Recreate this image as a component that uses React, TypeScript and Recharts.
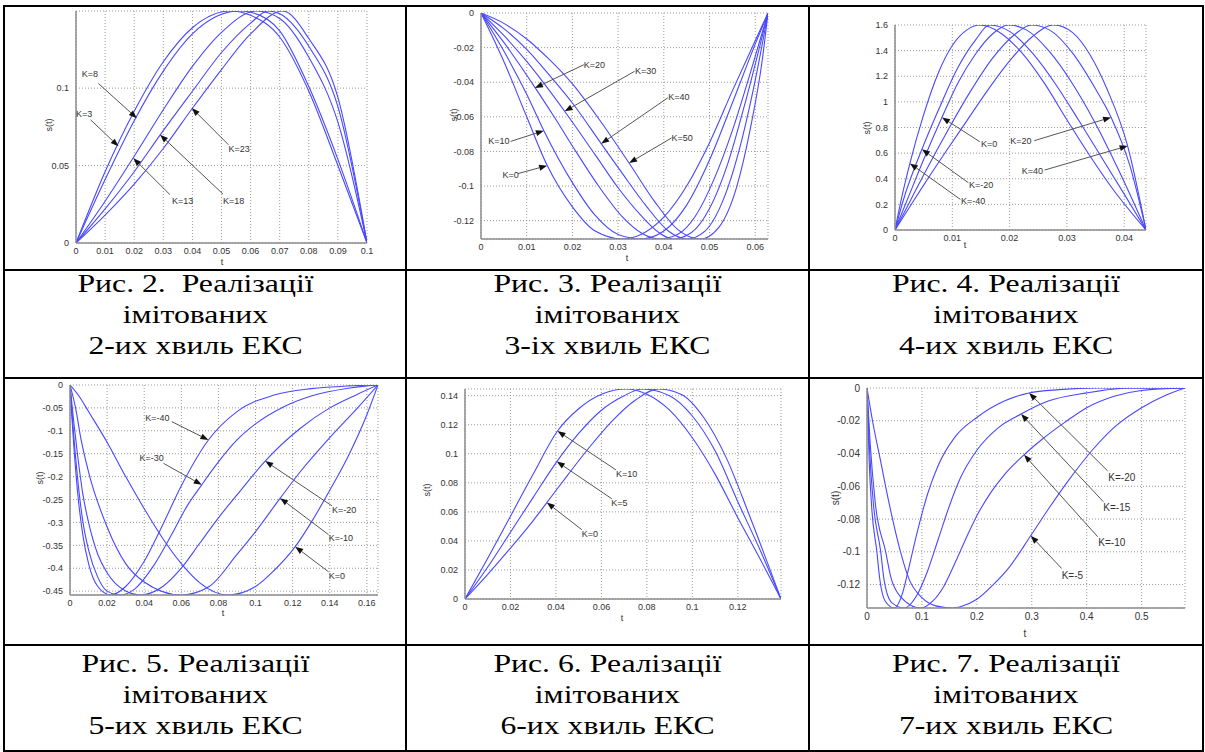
import React from "react";
import {
  LineChart,
  Line,
  XAxis,
  YAxis,
  CartesianGrid,
  ReferenceLine,
  ReferenceDot,
} from "recharts";

type Pt = [number, number];
type Note = { text: string; tx: number; ty: number; x1: number; y1: number; x2: number; y2: number };

// ---- Рис. 2 (K = 3, 8, 13, 18, 23) ----
const fig2K3: Pt[] = [[0, 0], [0.01, 0.046], [0.02, 0.085], [0.03, 0.117], [0.04, 0.139], [0.053, 0.1498], [0.06, 0.147], [0.07, 0.133], [0.08, 0.098], [0.09, 0.05], [0.1, 0]];
const fig2K8: Pt[] = [[0, 0], [0.01, 0.041], [0.02, 0.079], [0.03, 0.111], [0.04, 0.135], [0.056, 0.1498], [0.06, 0.149], [0.07, 0.137], [0.08, 0.101], [0.09, 0.054], [0.1, 0]];
const fig2K13: Pt[] = [[0, 0], [0.01, 0.027], [0.02, 0.056], [0.03, 0.086], [0.04, 0.114], [0.05, 0.136], [0.062, 0.1498], [0.07, 0.145], [0.08, 0.12], [0.09, 0.078], [0.1, 0]];
const fig2K18: Pt[] = [[0, 0], [0.01, 0.022], [0.02, 0.046], [0.029, 0.07], [0.04, 0.098], [0.05, 0.123], [0.06, 0.142], [0.066, 0.1498], [0.07, 0.148], [0.08, 0.127], [0.09, 0.088], [0.1, 0]];
const fig2K23: Pt[] = [[0, 0], [0.01, 0.018], [0.02, 0.038], [0.03, 0.061], [0.04, 0.087], [0.05, 0.112], [0.06, 0.135], [0.071, 0.1498], [0.08, 0.132], [0.09, 0.094], [0.1, 0]];
const fig2XTicks = [0, 0.01, 0.02, 0.03, 0.04, 0.05, 0.06, 0.07, 0.08, 0.09, 0.1];
const fig2YTicks = [0, 0.05, 0.1];
const fig2Notes: Note[] = [
  { text: "K=8", tx: 0.002, ty: 0.109, x1: 0.0077, y1: 0.103, x2: 0.0209, y2: 0.0806 },
  { text: "K=3", tx: 0.0, ty: 0.083, x1: 0.005, y1: 0.0796, x2: 0.0146, y2: 0.0624 },
  { text: "K=13", tx: 0.033, ty: 0.0273, x1: 0.0323, y1: 0.0312, x2: 0.0197, y2: 0.0548 },
  { text: "K=18", tx: 0.0505, ty: 0.0269, x1: 0.0505, y1: 0.0316, x2: 0.0289, y2: 0.0699 },
  { text: "K=23", tx: 0.0524, ty: 0.0609, x1: 0.0524, y1: 0.0634, x2: 0.0398, y2: 0.0871 },
];

// ---- Рис. 3 (K = 0 ... 50) ----
const fig3K0: Pt[] = [[0, 0], [0.005, -0.028], [0.01, -0.06], [0.01447, -0.088], [0.02, -0.112], [0.025, -0.126], [0.031, -0.1306], [0.035, -0.128], [0.04, -0.118], [0.045, -0.1], [0.05, -0.075], [0.055, -0.045], [0.06, -0.016], [0.0628, 0]];
const fig3K10: Pt[] = [[0, 0], [0.005, -0.022], [0.01, -0.047], [0.01375, -0.068], [0.02, -0.098], [0.025, -0.117], [0.03, -0.128], [0.035, -0.1306], [0.04, -0.126], [0.045, -0.111], [0.05, -0.085], [0.055, -0.052], [0.06, -0.018], [0.0628, 0]];
const fig3K20: Pt[] = [[0, 0], [0.005, -0.017], [0.0118, -0.043], [0.016, -0.06], [0.021, -0.081], [0.026, -0.101], [0.031, -0.118], [0.035, -0.127], [0.039, -0.1306], [0.043, -0.128], [0.047, -0.117], [0.051, -0.096], [0.055, -0.068], [0.059, -0.034], [0.0628, 0]];
const fig3K30: Pt[] = [[0, 0], [0.005, -0.013], [0.01, -0.028], [0.0183, -0.0568], [0.025, -0.082], [0.03, -0.101], [0.035, -0.117], [0.039, -0.127], [0.042, -0.1306], [0.046, -0.127], [0.05, -0.113], [0.054, -0.087], [0.058, -0.05], [0.0628, 0]];
const fig3K40: Pt[] = [[0, 0], [0.005, -0.009], [0.01, -0.021], [0.015, -0.036], [0.02, -0.052], [0.0263, -0.0755], [0.031, -0.093], [0.036, -0.111], [0.041, -0.126], [0.045, -0.1306], [0.049, -0.126], [0.053, -0.108], [0.057, -0.074], [0.0603, -0.035], [0.0628, 0]];
const fig3K50: Pt[] = [[0, 0], [0.005, -0.006], [0.01, -0.015], [0.015, -0.027], [0.02, -0.041], [0.026, -0.062], [0.0324, -0.0867], [0.038, -0.109], [0.043, -0.125], [0.048, -0.1306], [0.052, -0.124], [0.056, -0.1], [0.059, -0.066], [0.0615, -0.028], [0.0628, 0]];
const fig3XTicks = [0, 0.01, 0.02, 0.03, 0.04, 0.05, 0.06];
const fig3YTicks = [0, -0.02, -0.04, -0.06, -0.08, -0.1, -0.12];
const fig3Notes: Note[] = [
  { text: "K=20", tx: 0.0225, ty: -0.0299, x1: 0.0225, y1: -0.0299, x2: 0.0118, y2: -0.0433 },
  { text: "K=30", tx: 0.0337, ty: -0.0337, x1: 0.0336, y1: -0.0337, x2: 0.0183, y2: -0.0568 },
  { text: "K=40", tx: 0.041, ty: -0.0485, x1: 0.0409, y1: -0.049, x2: 0.0263, y2: -0.0755 },
  { text: "K=50", tx: 0.0417, ty: -0.0722, x1: 0.0417, y1: -0.0722, x2: 0.0324, y2: -0.0867 },
  { text: "K=10", tx: 0.0016, ty: -0.0742, x1: 0.0065, y1: -0.0742, x2: 0.01375, y2: -0.068 },
  { text: "K=0", tx: 0.0047, ty: -0.0934, x1: 0.0081, y1: -0.0928, x2: 0.01447, y2: -0.0882 },
];

// ---- Рис. 4 (K = -40 ... 40) ----
const fig4Km40: Pt[] = [[0, 0], [0.001, 0.22], [0.0026, 0.52], [0.005, 0.9], [0.0075, 1.22], [0.01, 1.44], [0.0125, 1.56], [0.0148, 1.6], [0.018, 1.55], [0.022, 1.39], [0.026, 1.15], [0.03, 0.86], [0.034, 0.58], [0.038, 0.32], [0.0438, 0]];
const fig4Km20: Pt[] = [[0, 0], [0.0015, 0.24], [0.0047, 0.63], [0.008, 0.98], [0.011, 1.27], [0.014, 1.48], [0.0165, 1.6], [0.02, 1.55], [0.024, 1.38], [0.028, 1.14], [0.032, 0.86], [0.036, 0.57], [0.04, 0.28], [0.0438, 0]];
const fig4K0: Pt[] = [[0, 0], [0.002, 0.22], [0.005, 0.55], [0.0082, 0.88], [0.011, 1.15], [0.014, 1.37], [0.017, 1.53], [0.0198, 1.6], [0.023, 1.56], [0.027, 1.39], [0.031, 1.14], [0.035, 0.83], [0.039, 0.47], [0.0438, 0]];
const fig4K20: Pt[] = [[0, 0], [0.002, 0.17], [0.005, 0.43], [0.0095, 0.8], [0.013, 1.07], [0.017, 1.34], [0.021, 1.53], [0.0238, 1.6], [0.027, 1.56], [0.031, 1.38], [0.035, 1.1], [0.0377, 0.88], [0.041, 0.5], [0.0438, 0]];
const fig4K40: Pt[] = [[0, 0], [0.002, 0.14], [0.005, 0.35], [0.009, 0.62], [0.0125, 0.85], [0.016, 1.08], [0.02, 1.32], [0.024, 1.51], [0.0277, 1.6], [0.031, 1.54], [0.034, 1.37], [0.037, 1.1], [0.0406, 0.655], [0.0438, 0]];
const fig4XTicks = [0, 0.01, 0.02, 0.03, 0.04];
const fig4YTicks = [0, 0.2, 0.4, 0.6, 0.8, 1, 1.2, 1.4, 1.6];
const fig4Notes: Note[] = [
  { text: "K=0", tx: 0.015, ty: 0.671, x1: 0.0148, y1: 0.689, x2: 0.0082, y2: 0.879 },
  { text: "K=-20", tx: 0.0129, ty: 0.351, x1: 0.0128, y1: 0.369, x2: 0.0047, y2: 0.63 },
  { text: "K=-40", tx: 0.0115, ty: 0.229, x1: 0.0114, y1: 0.239, x2: 0.0026, y2: 0.52 },
  { text: "K=20", tx: 0.0201, ty: 0.695, x1: 0.0243, y1: 0.697, x2: 0.0377, y2: 0.879 },
  { text: "K=40", tx: 0.0221, ty: 0.463, x1: 0.0261, y1: 0.468, x2: 0.0406, y2: 0.656 },
];

// ---- Рис. 5 (K = -40 ... 0) ----
const fig5Km40: Pt[] = [[0, 0], [0.001, -0.07], [0.002, -0.13], [0.004, -0.23], [0.007, -0.33], [0.01, -0.39], [0.015, -0.44], [0.022, -0.4585], [0.03, -0.44], [0.04, -0.385], [0.05, -0.305], [0.06, -0.22], [0.0746, -0.12], [0.09, -0.058], [0.11, -0.022], [0.13, -0.008], [0.15, -0.002], [0.166, 0]];
const fig5Km30: Pt[] = [[0, 0], [0.001, -0.055], [0.002, -0.11], [0.004, -0.2], [0.007, -0.3], [0.01, -0.36], [0.015, -0.42], [0.02, -0.45], [0.027, -0.4585], [0.035, -0.445], [0.045, -0.395], [0.055, -0.325], [0.063, -0.265], [0.071, -0.218], [0.08, -0.168], [0.09, -0.12], [0.1, -0.085], [0.115, -0.048], [0.13, -0.024], [0.15, -0.007], [0.166, 0]];
const fig5Km20: Pt[] = [[0, 0], [0.002, -0.08], [0.004, -0.15], [0.007, -0.24], [0.01, -0.3], [0.015, -0.37], [0.02, -0.41], [0.03, -0.45], [0.038, -0.4585], [0.05, -0.44], [0.06, -0.4], [0.07, -0.345], [0.08, -0.29], [0.09, -0.24], [0.1052, -0.166], [0.124, -0.095], [0.14, -0.05], [0.155, -0.02], [0.166, 0]];
const fig5Km10: Pt[] = [[0, 0], [0.003, -0.05], [0.006, -0.12], [0.01, -0.19], [0.02, -0.31], [0.03, -0.39], [0.04, -0.43], [0.06, -0.4585], [0.075, -0.44], [0.09, -0.37], [0.1, -0.32], [0.1133, -0.247], [0.124, -0.19], [0.14, -0.115], [0.155, -0.05], [0.166, 0]];
const fig5K0: Pt[] = [[0, 0], [0.005, -0.025], [0.01, -0.058], [0.02, -0.125], [0.03, -0.2], [0.04, -0.27], [0.05, -0.335], [0.06, -0.39], [0.07, -0.432], [0.085, -0.4585], [0.1, -0.44], [0.11, -0.405], [0.1214, -0.353], [0.13, -0.3], [0.14, -0.23], [0.15, -0.155], [0.16, -0.065], [0.166, 0]];
const fig5XTicks = [0, 0.02, 0.04, 0.06, 0.08, 0.1, 0.12, 0.14, 0.16];
const fig5YTicks = [0, -0.05, -0.1, -0.15, -0.2, -0.25, -0.3, -0.35, -0.4, -0.45];
const fig5Notes: Note[] = [
  { text: "K=-40", tx: 0.0405, ty: -0.0728, x1: 0.0549, y1: -0.08, x2: 0.0746, y2: -0.12 },
  { text: "K=-30", tx: 0.0374, ty: -0.16, x1: 0.0504, y1: -0.171, x2: 0.071, y2: -0.218 },
  { text: "K=-20", tx: 0.1412, ty: -0.273, x1: 0.1412, y1: -0.264, x2: 0.1052, y2: -0.166 },
  { text: "K=-10", tx: 0.1394, ty: -0.335, x1: 0.1394, y1: -0.327, x2: 0.1133, y2: -0.247 },
  { text: "K=0", tx: 0.1394, ty: -0.418, x1: 0.1394, y1: -0.408, x2: 0.1214, y2: -0.353 },
];

// ---- Рис. 6 (K = 0, 5, 10) ----
const fig6K10: Pt[] = [[0, 0], [0.01, 0.028], [0.02, 0.057], [0.03, 0.086], [0.0407, 0.1157], [0.05, 0.131], [0.06, 0.141], [0.071, 0.1446], [0.08, 0.141], [0.09, 0.13], [0.1, 0.111], [0.11, 0.086], [0.12, 0.056], [0.13, 0.027], [0.139, 0]];
const fig6K5: Pt[] = [[0, 0], [0.01, 0.022], [0.02, 0.046], [0.03, 0.07], [0.0404, 0.0946], [0.05, 0.114], [0.06, 0.13], [0.07, 0.14], [0.078, 0.1446], [0.09, 0.14], [0.1, 0.126], [0.11, 0.102], [0.12, 0.067], [0.13, 0.033], [0.139, 0]];
const fig6K0: Pt[] = [[0, 0], [0.01, 0.017], [0.02, 0.035], [0.03, 0.054], [0.036, 0.0664], [0.045, 0.085], [0.055, 0.105], [0.065, 0.123], [0.075, 0.137], [0.085, 0.1446], [0.095, 0.141], [0.105, 0.125], [0.115, 0.097], [0.125, 0.058], [0.139, 0]];
const fig6XTicks = [0, 0.02, 0.04, 0.06, 0.08, 0.1, 0.12];
const fig6YTicks = [0, 0.02, 0.04, 0.06, 0.08, 0.1, 0.12, 0.14];
const fig6Notes: Note[] = [
  { text: "K=10", tx: 0.0664, ty: 0.0859, x1: 0.0664, y1: 0.0889, x2: 0.0407, y2: 0.1157 },
  { text: "K=5", tx: 0.0643, ty: 0.066, x1: 0.0646, y1: 0.069, x2: 0.0404, y2: 0.0946 },
  { text: "K=0", tx: 0.0514, ty: 0.0447, x1: 0.0514, y1: 0.0477, x2: 0.036, y2: 0.0664 },
];

// ---- Рис. 7 (K = -20 ... -5) ----
const fig7Km20: Pt[] = [[0, 0], [0.004, -0.045], [0.009, -0.075], [0.018, -0.1], [0.023, -0.116], [0.033, -0.13], [0.05, -0.1343], [0.064, -0.126], [0.076, -0.11], [0.09, -0.09], [0.11, -0.065], [0.13, -0.047], [0.16, -0.03], [0.2, -0.018], [0.25, -0.008], [0.295, -0.003], [0.35, -0.001], [0.42, 0], [0.579, 0]];
const fig7Km15: Pt[] = [[0, 0], [0.005, -0.04], [0.012, -0.072], [0.025, -0.1], [0.031, -0.117], [0.045, -0.131], [0.068, -0.1343], [0.09, -0.127], [0.11, -0.112], [0.13, -0.092], [0.15, -0.072], [0.17, -0.055], [0.2, -0.038], [0.24, -0.024], [0.2806, -0.0159], [0.33, -0.008], [0.4, -0.003], [0.48, 0], [0.579, 0]];
const fig7Km10: Pt[] = [[0, 0], [0.006, -0.035], [0.015, -0.07], [0.034, -0.1], [0.043, -0.115], [0.06, -0.127], [0.098, -0.1343], [0.12, -0.13], [0.14, -0.121], [0.16, -0.107], [0.18, -0.092], [0.2, -0.078], [0.225, -0.064], [0.25, -0.053], [0.286, -0.0408], [0.32, -0.031], [0.36, -0.021], [0.4, -0.012], [0.45, -0.005], [0.5, -0.0015], [0.579, 0]];
const fig7Km5: Pt[] = [[0, 0], [0.01, -0.02], [0.025, -0.045], [0.04, -0.07], [0.061, -0.1], [0.077, -0.117], [0.1, -0.128], [0.125, -0.133], [0.155, -0.1343], [0.17, -0.1335], [0.2, -0.129], [0.23, -0.12], [0.26, -0.109], [0.298, -0.0902], [0.33, -0.074], [0.37, -0.055], [0.41, -0.038], [0.45, -0.024], [0.5, -0.012], [0.54, -0.005], [0.579, 0]];
const fig7XTicks = [0, 0.1, 0.2, 0.3, 0.4, 0.5];
const fig7YTicks = [0, -0.02, -0.04, -0.06, -0.08, -0.1, -0.12];
const fig7Notes: Note[] = [
  { text: "K=-20", tx: 0.4394, ty: -0.0547, x1: 0.4382, y1: -0.0506, x2: 0.2952, y2: -0.0031 },
  { text: "K=-15", tx: 0.4303, ty: -0.0731, x1: 0.4303, y1: -0.0694, x2: 0.2806, y2: -0.0159 },
  { text: "K=-10", tx: 0.4212, ty: -0.0943, x1: 0.42, y1: -0.0908, x2: 0.286, y2: -0.0408 },
  { text: "K=-5", tx: 0.3545, ty: -0.1147, x1: 0.3545, y1: -0.1102, x2: 0.2982, y2: -0.0902 },
];

const captions = [
  ["Рис. 2.  Реалізації", "імітованих", "2-их хвиль ЕКС"],
  ["Рис. 3. Реалізації", "імітованих", "3-іх хвиль ЕКС"],
  ["Рис. 4. Реалізації", "імітованих", "4-их хвиль ЕКС"],
  ["Рис. 5. Реалізації", "імітованих", "5-их хвиль ЕКС"],
  ["Рис. 6. Реалізації", "імітованих", "6-их хвиль ЕКС"],
  ["Рис. 7. Реалізації", "імітованих", "7-их хвиль ЕКС"],
];

const BLUE = "#4848ff";
const SANS = "Liberation Sans, Arial, sans-serif";
const SERIF = "Liberation Serif, DejaVu Serif, serif";

type Panel = {
  box: [number, number, number, number]; // left, top, right, bottom of plot area
  xMax: number;
  yDomain: [number, number];
  xTicks: number[];
  yTicks: number[];
  curves: Pt[][];
  notes: Note[];
  font: number;
  yLab: [number, number];
  xLab: [number, number];
};

const panels: Panel[] = [
  { box: [76, 11, 367, 243], xMax: 0.1, yDomain: [0, 0.1498], xTicks: fig2XTicks, yTicks: fig2YTicks, curves: [fig2K3, fig2K8, fig2K13, fig2K18, fig2K23], notes: fig2Notes, font: 9, yLab: [49, 125], xLab: [222, 262] },
  { box: [481, 13, 768, 239], xMax: 0.0628, yDomain: [-0.1306, 0], xTicks: fig3XTicks, yTicks: fig3YTicks, curves: [fig3K0, fig3K10, fig3K20, fig3K30, fig3K40, fig3K50], notes: fig3Notes, font: 9, yLab: [454, 115], xLab: [627, 258] },
  { box: [895, 25, 1146, 230], xMax: 0.0438, yDomain: [0, 1.6], xTicks: fig4XTicks, yTicks: fig4YTicks, curves: [fig4Km40, fig4Km20, fig4K0, fig4K20, fig4K40], notes: fig4Notes, font: 9, yLab: [867, 128], xLab: [965, 245] },
  { box: [70, 385, 378, 595], xMax: 0.166, yDomain: [-0.4585, 0], xTicks: fig5XTicks, yTicks: fig5YTicks, curves: [fig5Km40, fig5Km30, fig5Km20, fig5Km10, fig5K0], notes: fig5Notes, font: 9, yLab: [40, 478], xLab: [223, 613] },
  { box: [465, 389, 781, 599], xMax: 0.139, yDomain: [0, 0.1446], xTicks: fig6XTicks, yTicks: fig6YTicks, curves: [fig6K10, fig6K5, fig6K0], notes: fig6Notes, font: 9, yLab: [427, 490], xLab: [622, 618] },
  { box: [867, 388, 1185, 608], xMax: 0.579, yDomain: [-0.1343, 0], xTicks: fig7XTicks, yTicks: fig7YTicks, curves: [fig7Km20, fig7Km15, fig7Km10, fig7Km5], notes: fig7Notes, font: 10, yLab: [835, 498], xLab: [1025, 633] },
];

function arrowShape(props: any) {
  const { x1, y1, x2, y2 } = props;
  if ([x1, y1, x2, y2].some((v) => typeof v !== "number" || isNaN(v))) return <g />;
  const dx = x2 - x1;
  const dy = y2 - y1;
  const len = Math.hypot(dx, dy) || 1;
  const ux = dx / len;
  const uy = dy / len;
  const L = 8;
  const W = 3;
  const bx = x2 - ux * L;
  const by = y2 - uy * L;
  const pts = `${x2},${y2} ${bx - uy * W},${by + ux * W} ${bx + uy * W},${by - ux * W}`;
  return (
    <g>
      <line x1={x1} y1={y1} x2={bx} y2={by} stroke="#555" strokeWidth={1} />
      <polygon points={pts} fill="#111" />
    </g>
  );
}

const fmt = (v: number) => String(v);

function Plot({ p }: { p: Panel }) {
  const [l, t, r, b] = p.box;
  const padL = 60;
  const padT = 5;
  const width = r - l + padL + 8;
  const height = b - t + padT + 30;
  const tick = { fontSize: p.font, fill: "#333", fontFamily: SANS };
  return (
    <div style={{ position: "absolute", left: l - padL, top: t - padT }}>
      <LineChart width={width} height={height} margin={{ top: padT, right: 8, left: 0, bottom: 0 }}>
        <CartesianGrid stroke="#9a9a9a" strokeDasharray="1 2" />
        <XAxis
          type="number"
          dataKey="t"
          domain={[0, p.xMax]}
          ticks={p.xTicks}
          interval={0}
          allowDataOverflow
          height={30}
          tickSize={0}
          tickMargin={5}
          tickLine={false}
          tick={tick}
          tickFormatter={fmt}
          stroke="#8c8c8c"
          strokeWidth={1.5}
        />
        <YAxis
          type="number"
          dataKey="v"
          domain={p.yDomain}
          ticks={p.yTicks}
          interval={0}
          allowDataOverflow
          width={padL}
          tickSize={0}
          tickMargin={7}
          tickLine={false}
          tick={tick}
          tickFormatter={fmt}
          stroke="#8c8c8c"
          strokeWidth={1.5}
        />
        {p.curves.map((c, i) => (
          <Line
            key={i}
            data={c.map(([x, v]) => ({ t: x, v }))}
            dataKey="v"
            type="monotone"
            dot={false}
            activeDot={false}
            stroke={BLUE}
            strokeWidth={1.1}
            isAnimationActive={false}
          />
        ))}
        {p.notes.map((n, i) => (
          <ReferenceLine
            key={"a" + i}
            segment={[{ x: n.x1, y: n.y1 }, { x: n.x2, y: n.y2 }]}
            ifOverflow="visible"
            shape={arrowShape}
          />
        ))}
        {p.notes.map((n, i) => (
          <ReferenceDot
            key={"t" + i}
            x={n.tx}
            y={n.ty}
            r={0}
            ifOverflow="visible"
            shape={(d: any) => (
              <text
                x={d.cx}
                y={d.cy}
                fontSize={p.font}
                fontFamily={SANS}
                fill="#333"
                dominantBaseline="central"
              >
                {n.text}
              </text>
            )}
          />
        ))}
      </LineChart>
    </div>
  );
}

const hLines = [5, 269, 377, 644, 750];
const vLines = [3, 405, 808, 1202];
const cols = [
  { left: 3, width: 385 },
  { left: 406, width: 403 },
  { left: 809, width: 394 },
];
const rowTops = [268, 648];

export default function App() {
  return (
    <div
      style={{
        position: "absolute",
        left: 0,
        top: 0,
        width: 1205,
        height: 752,
        background: "#fff",
        overflow: "hidden",
      }}
    >
      {panels.map((p, i) => (
        <Plot key={i} p={p} />
      ))}
      {panels.map((p, i) => (
        <React.Fragment key={"lab" + i}>
          <div
            style={{
              position: "absolute",
              left: p.yLab[0],
              top: p.yLab[1],
              transform: "translate(-50%, -50%) rotate(-90deg)",
              fontFamily: SANS,
              fontSize: p.font,
              color: "#333",
              whiteSpace: "nowrap",
            }}
          >
            s(t)
          </div>
          <div
            style={{
              position: "absolute",
              left: p.xLab[0],
              top: p.xLab[1],
              transform: "translate(-50%, -50%)",
              fontFamily: SANS,
              fontSize: p.font,
              color: "#333",
            }}
          >
            t
          </div>
        </React.Fragment>
      ))}
      {hLines.map((y, i) => (
        <div key={"h" + i} style={{ position: "absolute", left: 3, top: y, width: 1201, height: 2, background: "#000" }} />
      ))}
      {vLines.map((x, i) => (
        <div key={"v" + i} style={{ position: "absolute", left: x, top: 5, width: 2, height: 747, background: "#000" }} />
      ))}
      {captions.map((lines, i) => {
        const c = cols[i % 3];
        return (
          <div
            key={"c" + i}
            style={{
              position: "absolute",
              left: c.left,
              width: c.width,
              top: rowTops[Math.floor(i / 3)],
              textAlign: "center",
              fontFamily: SERIF,
              fontSize: 26,
              lineHeight: "31px",
              color: "#000",
              whiteSpace: "pre",
              transform: "scaleX(1.22)",
              transformOrigin: "center",
            }}
          >
            {lines.map((s, j) => (
              <div key={j}>{s}</div>
            ))}
          </div>
        );
      })}
    </div>
  );
}
